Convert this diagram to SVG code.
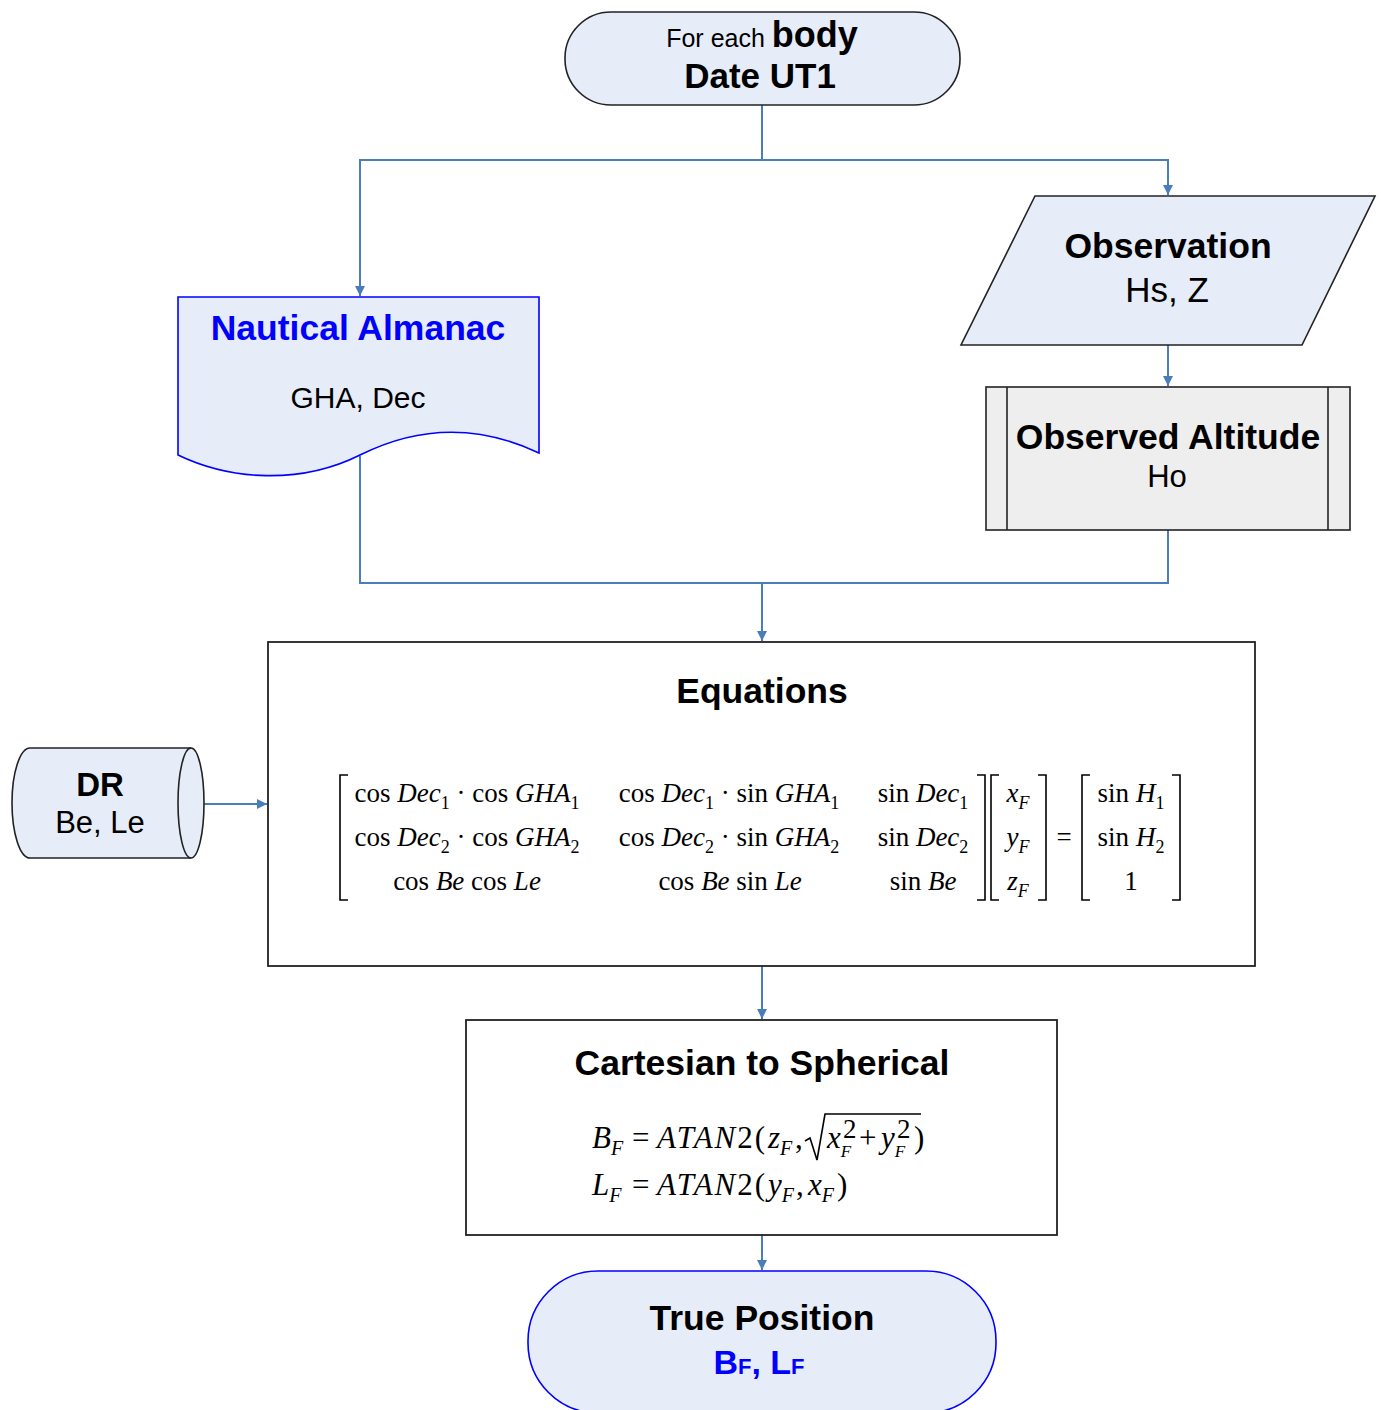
<svg xmlns="http://www.w3.org/2000/svg" width="1381" height="1410" viewBox="0 0 1381 1410">
<defs>
<style>
.node{fill:#e7edf8;stroke:#222;stroke-width:1.6}
.conn{fill:none;stroke:#4a7ebb;stroke-width:2}
.t{font-family:"Liberation Sans",Arial,sans-serif;text-anchor:middle;fill:#000}
.b{font-weight:bold}
.m{font-family:"Liberation Serif","Times New Roman",serif;font-size:27px;fill:#000}
.c{font-size:31px}
.i{font-style:italic}
.blue{fill:#0000ff}
</style>
<marker id="ah" viewBox="0 0 10 10" refX="10" refY="5" markerWidth="5" markerHeight="5" orient="auto" markerUnits="strokeWidth">
<path d="M0,0 L10,5 L0,10 Z" fill="#4a7ebb"/>
</marker>
</defs>
<rect width="1381" height="1410" fill="#fff"/>

<g id="connectors">
<path class="conn" d="M762,105 V160 H360 V296" marker-end="url(#ah)"/>
<path class="conn" d="M762,160 H1168 V195" marker-end="url(#ah)"/>
<path class="conn" d="M1168,345 V386" marker-end="url(#ah)"/>
<path class="conn" d="M360,456 V583 H1168 V530"/>
<path class="conn" d="M762,583 V641" marker-end="url(#ah)"/>
<path class="conn" d="M191,804 H267" marker-end="url(#ah)"/>
<path class="conn" d="M762,966 V1019" marker-end="url(#ah)"/>
<path class="conn" d="M762,1235 V1270" marker-end="url(#ah)"/>
</g>

<g id="start">
<rect class="node" x="565" y="12" width="395" height="93" rx="46" ry="46"/>
<text class="t" x="762" y="47"><tspan font-size="25">For each </tspan><tspan class="b" font-size="36">body</tspan></text>
<text class="t b" x="760" y="88" font-size="35">Date UT1</text>
</g>

<g id="almanac">
<path class="node" style="stroke:#0000ff" d="M178,297 H539 V453 C480,425 420,425 360,455 C300,485 230,480 178,455 Z"/>
<text class="t b blue" x="358" y="340" font-size="35.5">Nautical Almanac</text>
<text class="t" x="358" y="408" font-size="30" fill="#333">GHA, Dec</text>
</g>

<g id="observation">
<polygon class="node" points="1035,196 1375,196 1302,345 961,345"/>
<text class="t b" x="1168" y="258" font-size="35.5">Observation</text>
<text class="t" x="1167" y="302" font-size="35">Hs, Z</text>
</g>

<g id="observed-altitude">
<rect class="node" style="fill:#eeeeee" x="986" y="387" width="364" height="143"/>
<line x1="1007" y1="387" x2="1007" y2="530" stroke="#222" stroke-width="1.6"/>
<line x1="1328" y1="387" x2="1328" y2="530" stroke="#222" stroke-width="1.6"/>
<text class="t b" x="1168" y="449" font-size="35.5">Observed Altitude</text>
<text class="t" x="1167" y="487" font-size="31" fill="#333">Ho</text>
</g>

<g id="dr">
<path class="node" d="M30,748 H191 A13,55 0 0 1 191,858 H30 A18,55 0 0 1 30,748 Z"/>
<path d="M191,748 A13,55 0 0 0 191,858" fill="none" stroke="#222" stroke-width="1.6"/>
<text class="t b" x="100" y="796" font-size="33">DR</text>
<text class="t" x="100" y="833" font-size="31" fill="#333">Be, Le</text>
</g>

<g id="equations">
<rect x="268" y="642" width="987" height="324" fill="#fff" stroke="#222" stroke-width="1.8"/>
<text class="t b" x="762" y="703" font-size="35.5">Equations</text>
<g fill="none" stroke="#000" stroke-width="1.6">
<path d="M348,775 H340 V900 H348"/>
<path d="M977,775 H985 V900 H977"/>
<path d="M999,775 H991 V900 H999"/>
<path d="M1038,775 H1046 V900 H1038"/>
<path d="M1090,775 H1082 V900 H1090"/>
<path d="M1172,775 H1180 V900 H1172"/>
</g>
<text class="m" x="467" y="802" text-anchor="middle">cos <tspan class="i">Dec</tspan><tspan font-size="18" dy="7">1</tspan><tspan dy="-7"> · cos </tspan><tspan class="i">GHA</tspan><tspan font-size="18" dy="7">1</tspan></text>
<text class="m" x="467" y="846" text-anchor="middle">cos <tspan class="i">Dec</tspan><tspan font-size="18" dy="7">2</tspan><tspan dy="-7"> · cos </tspan><tspan class="i">GHA</tspan><tspan font-size="18" dy="7">2</tspan></text>
<text class="m" x="467" y="890" text-anchor="middle">cos <tspan class="i">Be</tspan> cos <tspan class="i">Le</tspan></text>
<text class="m" x="729" y="802" text-anchor="middle">cos <tspan class="i">Dec</tspan><tspan font-size="18" dy="7">1</tspan><tspan dy="-7"> · sin </tspan><tspan class="i">GHA</tspan><tspan font-size="18" dy="7">1</tspan></text>
<text class="m" x="729" y="846" text-anchor="middle">cos <tspan class="i">Dec</tspan><tspan font-size="18" dy="7">2</tspan><tspan dy="-7"> · sin </tspan><tspan class="i">GHA</tspan><tspan font-size="18" dy="7">2</tspan></text>
<text class="m" x="730" y="890" text-anchor="middle">cos <tspan class="i">Be</tspan> sin <tspan class="i">Le</tspan></text>
<text class="m" x="923" y="802" text-anchor="middle">sin <tspan class="i">Dec</tspan><tspan font-size="18" dy="7">1</tspan></text>
<text class="m" x="923" y="846" text-anchor="middle">sin <tspan class="i">Dec</tspan><tspan font-size="18" dy="7">2</tspan></text>
<text class="m" x="923" y="890" text-anchor="middle">sin <tspan class="i">Be</tspan></text>
<text class="m" x="1018" y="802" text-anchor="middle"><tspan class="i">x</tspan><tspan class="i" font-size="18" dy="7">F</tspan></text>
<text class="m" x="1018" y="846" text-anchor="middle"><tspan class="i">y</tspan><tspan class="i" font-size="18" dy="7">F</tspan></text>
<text class="m" x="1018" y="890" text-anchor="middle"><tspan class="i">z</tspan><tspan class="i" font-size="18" dy="7">F</tspan></text>
<text class="m" x="1064" y="846" text-anchor="middle">=</text>
<text class="m" x="1131" y="802" text-anchor="middle">sin <tspan class="i">H</tspan><tspan font-size="18" dy="7">1</tspan></text>
<text class="m" x="1131" y="846" text-anchor="middle">sin <tspan class="i">H</tspan><tspan font-size="18" dy="7">2</tspan></text>
<text class="m" x="1131" y="890" text-anchor="middle">1</text>
</g>

<g id="cartesian">
<rect x="466" y="1020" width="591" height="215" fill="#fff" stroke="#222" stroke-width="1.8"/>
<text class="t b" x="762" y="1075" font-size="35.5">Cartesian to Spherical</text>
<text class="m c i" x="592" y="1148">B<tspan font-size="20" dy="7">F</tspan></text>
<text class="m c" x="632" y="1148">=</text>
<text class="m c" x="657" y="1148" textLength="108"><tspan class="i">ATAN</tspan>2(</text>
<text class="m c i" x="768" y="1148">z<tspan font-size="20" dy="7">F</tspan></text>
<text class="m c" x="795" y="1148">,</text>
<polyline points="805,1141 810,1138 817,1160 825,1114 921,1114" fill="none" stroke="#000" stroke-width="1.6"/>
<text class="m c i" x="827" y="1148">x<tspan font-size="17" dy="9">F</tspan></text>
<text class="m" x="843" y="1138" font-size="17">2</text>
<text class="m c" x="859" y="1148">+</text>
<text class="m c i" x="881" y="1148">y<tspan font-size="17" dy="9">F</tspan></text>
<text class="m" x="897" y="1138" font-size="17">2</text>
<text class="m c" x="914" y="1148">)</text>
<text class="m c i" x="592" y="1195">L<tspan font-size="20" dy="7">F</tspan></text>
<text class="m c" x="632" y="1195">=</text>
<text class="m c" x="657" y="1195" textLength="108"><tspan class="i">ATAN</tspan>2(</text>
<text class="m c i" x="768" y="1195">y<tspan font-size="20" dy="7">F</tspan></text>
<text class="m c" x="796" y="1195">,</text>
<text class="m c i" x="808" y="1195">x<tspan font-size="20" dy="7">F</tspan></text>
<text class="m c" x="837" y="1195">)</text>
</g>

<g id="true-position">
<rect class="node" style="stroke:#0000ff" x="528" y="1271" width="468" height="142" rx="70" ry="70"/>
<text class="t b" x="762" y="1330" font-size="35.5">True Position</text>
<text class="t b blue" x="759" y="1374" font-size="34">B<tspan font-size="22">F</tspan>, L<tspan font-size="22">F</tspan></text>
</g>
</svg>
